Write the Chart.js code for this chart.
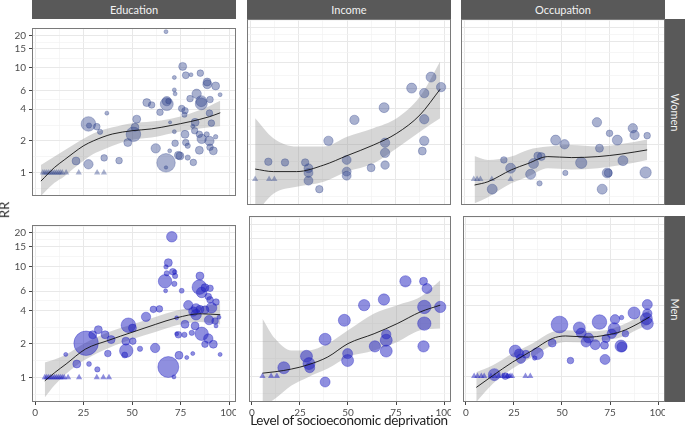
<!DOCTYPE html>
<html>
<head>
<meta charset="utf-8">
<script src="https://cdn.jsdelivr.net/npm/chart.js@4.4.1/dist/chart.umd.min.js"></script>
<style>
  html, body { margin: 0; padding: 0; background: #fff; }
  #wrap { position: relative; width: 685px; height: 432px; overflow: hidden; font-family: Lato, "Open Sans", sans-serif; }
  #wrap canvas { position: absolute; }
  .strip { position: absolute; background: #595959; color: #f2f2f2; font-size: 11px; display: flex; align-items: center; justify-content: center; }
  .strip.side span { display: block; transform: rotate(90deg); white-space: nowrap; }
  .axis-title { position: absolute; color: #222; white-space: nowrap; }
</style>
</head>
<body>
<div id="wrap"></div>
<script>
// ---- facets and axes ----
const facetCols = ["Education", "Income", "Occupation"];
const facetRows = ["Women", "Men"];
const xTicks = [0, 25, 50, 75, 100];
const yTicks = [1, 2, 4, 6, 10, 15, 20];

// ---- Education / Women ----
const eduWomenX = [67.5, 76.1, 77.7, 80.4, 85.2, 71.8, 88.7, 88.8, 93.1, 95.4, 71.8, 72.2, 83.3, 79.9, 85.7, 85.7, 90.2, 57.6, 60.1, 67.9, 67.9, 68.7, 75.6, 77.3, 64.4, 37.0, 52.4, 77.0, 89.9, 90.9, 69.6, 82.5, 81.3, 51.5, 27.5, 27.8, 31.8, 33.5, 50.7, 47.8, 71.8, 77.3, 84.7, 85.9, 88.5, 93.1, 89.9, 72.2, 77.7, 78.7, 90.2, 91.9, 84.7, 62.2, 69.4, 73.9, 74.7, 78.7, 81.6, 67.5, 67.5, 43.3, 35.6, 27.5, 21.1, 82.3];
const eduWomenRR = [21.8, 10.2, 8.4, 8.5, 8.8, 8.0, 7.25, 6.9, 6.65, 5.5, 6.1, 5.6, 5.6, 5.04, 4.77, 4.5, 4.94, 4.62, 4.39, 4.77, 4.47, 4.77, 4.06, 3.87, 3.74, 3.67, 3.22, 3.55, 3.67, 2.95, 3.0, 3.0, 2.76, 2.69, 2.9, 2.8, 2.73, 2.44, 2.31, 1.93, 2.45, 2.31, 2.31, 2.09, 2.31, 2.19, 2.0, 1.9, 1.93, 1.8, 1.74, 1.61, 1.63, 1.7, 1.61, 1.46, 1.44, 1.39, 1.25, 1.24, 1.12, 1.3, 1.38, 1.2, 1.29, 2.5];
const eduWomenW = [4, 16, 12, 4, 11, 4, 16, 20, 16, 4, 4, 4, 22, 11, 30, 36, 11, 16, 11, 22, 42, 7, 11, 11, 11, 4, 16, 7, 11, 11, 2.5, 16, 4, 16, 53, 7, 11, 7, 53, 16, 4, 16, 11, 22, 7, 5, 22, 11, 11, 7, 11, 16, 16, 22, 4, 16, 16, 7, 11, 86, 3, 11, 11, 22, 16, 11];
const eduWomenRefX = [4, 5, 6, 7, 8, 9, 10, 11, 12, 13, 14, 16, 22.5, 32, 35.5];
const eduWomenFitX = [3, 10, 15, 20, 25, 30, 35, 40, 50, 60, 70, 80, 90, 95.5];
const eduWomenFit = [0.83, 1.12, 1.32, 1.55, 1.8, 2.0, 2.18, 2.33, 2.5, 2.6, 2.8, 3.05, 3.4, 3.7];
const eduWomenLo = [0.6, 0.8, 0.92, 1.1, 1.3, 1.5, 1.65, 1.8, 2.05, 2.15, 2.35, 2.55, 2.7, 2.75];
const eduWomenHi = [1.18, 1.42, 1.62, 1.85, 2.1, 2.35, 2.55, 2.7, 2.95, 3.05, 3.25, 3.65, 4.3, 4.8];

// ---- Education / Men ----
const eduMenX = [70.5, 68.7, 67.5, 67.9, 71.0, 72.0, 72.2, 67.0, 71.8, 67.3, 75.6, 85.0, 84.7, 85.9, 87.6, 90.2, 89.3, 93.3, 90.2, 79.0, 83.0, 85.0, 81.6, 83.0, 87.6, 91.0, 89.7, 92.8, 94.8, 93.3, 73.0, 77.3, 82.5, 85.9, 73.0, 73.9, 77.0, 80.8, 89.3, 87.6, 91.9, 95.4, 81.3, 78.2, 74.2, 68.7, 71.6, 61.9, 64.1, 61.0, 57.2, 48.1, 50.2, 50.4, 46.8, 47.0, 46.2, 54.1, 26.3, 32.6, 29.7, 36.1, 39.2, 37.5, 21.5, 15.8, 27.8, 32.1];
const eduMenRR = [18.5, 10.8, 9.9, 8.66, 8.95, 8.9, 8.2, 7.35, 6.96, 6.03, 6.03, 8.2, 6.5, 5.83, 6.43, 6.35, 5.35, 4.77, 5.0, 4.47, 4.19, 4.1, 3.92, 3.67, 4.06, 4.24, 3.28, 3.22, 3.48, 2.91, 3.44, 3.01, 2.91, 2.47, 2.47, 2.42, 2.42, 2.52, 2.24, 1.99, 1.99, 1.61, 1.64, 1.51, 1.58, 1.24, 1.01, 1.84, 4.14, 4.1, 3.51, 2.95, 2.78, 2.12, 2.12, 1.74, 1.59, 1.81, 2.03, 2.69, 2.42, 2.42, 2.19, 1.64, 1.32, 1.61, 1.32, 1.18];
const eduMenW = [28, 16, 5, 7, 11, 5, 7, 45, 7, 4, 6, 16, 53, 28, 16, 11, 11, 11, 11, 22, 22, 16, 22, 28, 16, 28, 22, 11, 4, 4, 4, 16, 16, 45, 4, 11, 7, 7, 22, 11, 16, 4, 4, 4, 16, 110, 4, 22, 11, 11, 22, 53, 16, 11, 16, 45, 9, 7, 150, 16, 16, 16, 16, 11, 16, 4, 6, 7];
const eduMenRefX = [5, 6, 7, 8, 9, 10, 11, 12, 13, 14, 15, 17, 22.7, 31.8, 35.2, 38.1];
const eduMenFitX = [5, 10, 16, 26, 38, 50, 62, 73, 85, 95.5];
const eduMenFit = [0.93, 1.1, 1.32, 1.8, 2.16, 2.55, 3.0, 3.44, 3.74, 3.67];
const eduMenLo = [0.66, 0.85, 1.08, 1.45, 1.84, 2.2, 2.56, 2.95, 3.15, 3.0];
const eduMenHi = [1.36, 1.45, 1.61, 2.05, 2.56, 3.0, 3.5, 4.0, 4.35, 4.63];

// ---- Income / Women ----
const incWomenX = [9.4, 18.0, 28.4, 30.1, 30.1, 30.1, 35.7, 40.4, 49.8, 49.8, 49.8, 53.8, 62.4, 69.1, 69.6, 69.6, 69.6, 83.3, 89.8, 93.3, 98.5, 89.8, 89.8, 88.8];
const incWomenRR = [1.41, 1.39, 1.39, 1.24, 1.13, 0.97, 0.82, 2.13, 1.46, 1.16, 1.07, 3.22, 1.25, 4.1, 2.05, 1.68, 1.32, 6.03, 5.46, 7.5, 6.15, 3.26, 2.13, 1.74];
const incWomenW = [14, 14, 14, 20, 20, 20, 14, 22, 20, 20, 20, 22, 16, 25, 22, 22, 18, 25, 22, 25, 22, 22, 22, 16];
const incWomenRefX = [2.6, 9.8, 12.5];
const incWomenFitX = [2.6, 12, 24, 38, 50, 63.6, 75.6, 87.6, 98];
const incWomenFit = [1.22, 1.16, 1.16, 1.32, 1.59, 1.96, 2.47, 3.55, 5.9];
const incWomenLo = [0.5, 0.75, 0.86, 0.95, 1.16, 1.36, 1.84, 2.55, 3.32];
const incWomenHi = [3.32, 2.24, 1.9, 1.9, 2.31, 2.73, 3.32, 5.1, 10.2];

// ---- Income / Men ----
const incMenX = [16.6, 28.4, 29.7, 30.1, 38.1, 38.1, 48.1, 49.8, 49.8, 58.4, 68.7, 64.0, 69.9, 69.9, 69.9, 79.9, 89.3, 91.1, 89.7, 89.7, 89.3, 98.0];
const incMenRR = [1.18, 1.48, 1.28, 1.18, 2.07, 0.89, 3.01, 1.56, 1.36, 4.06, 4.54, 1.8, 2.28, 2.03, 1.64, 6.5, 6.5, 5.64, 3.92, 2.82, 1.8, 3.92];
const incMenW = [36, 36, 36, 25, 36, 25, 36, 25, 36, 32, 32, 32, 22, 36, 36, 32, 16, 25, 45, 45, 32, 32];
const incMenRefX = [5.5, 10, 13];
const incMenFitX = [5.5, 12, 20.6, 29.2, 39.5, 50, 63.6, 75.6, 87.6, 98];
const incMenFit = [1.06, 1.09, 1.15, 1.25, 1.46, 1.9, 2.31, 2.82, 3.55, 4.06];
const incMenLo = [0.55, 0.64, 0.83, 0.98, 1.16, 1.46, 1.66, 1.96, 2.47, 2.56];
const incMenHi = [3.11, 2.1, 1.66, 1.66, 1.9, 2.47, 3.44, 4.06, 4.77, 6.63];

// ---- Occupation / Women ----
const occWomenX = [14.5, 20.5, 24.0, 34.3, 35.8, 38.0, 39.8, 38.9, 47.2, 51.8, 52.2, 60.4, 68.5, 69.8, 71.2, 73.8, 74.3, 75.0, 79.0, 81.9, 87.0, 87.9, 94.4, 93.6];
const occWomenRR = [0.82, 1.46, 1.24, 1.1, 1.36, 1.58, 1.56, 0.92, 2.16, 1.99, 1.13, 1.38, 3.07, 1.84, 0.82, 1.13, 1.13, 2.47, 2.16, 1.44, 2.73, 2.39, 2.36, 1.14];
const occWomenW = [25, 11, 25, 25, 25, 16, 16, 7, 25, 22, 7, 32, 22, 16, 25, 25, 16, 11, 25, 25, 22, 22, 11, 32];
const occWomenRefX = [5, 6.7, 8.4, 14.3, 24];
const occWomenFitX = [5.4, 12.3, 24.3, 32.9, 43.2, 55.3, 69, 81, 94.4];
const occWomenFit = [0.89, 0.95, 1.2, 1.36, 1.56, 1.53, 1.56, 1.64, 1.78];
const occWomenLo = [0.62, 0.7, 0.92, 1.05, 1.24, 1.21, 1.24, 1.32, 1.46];
const occWomenHi = [1.58, 1.46, 1.56, 1.78, 1.9, 1.96, 1.9, 2.0, 2.19];

// ---- Occupation / Men ----
const occMenX = [14.8, 20.5, 22.0, 25.7, 27.7, 28.6, 31.2, 37.2, 35.8, 44.9, 48.7, 54.4, 59.0, 60.0, 62.5, 63.8, 67.3, 69.5, 72.1, 72.4, 72.9, 75.9, 77.6, 77.2, 81.0, 80.7, 81.2, 83.0, 87.5, 94.4, 94.4, 93.9, 94.4];
const occMenRR = [1.03, 1.0, 1.0, 1.64, 1.56, 1.41, 1.54, 1.56, 1.43, 1.92, 2.77, 1.36, 2.59, 2.34, 1.96, 2.12, 1.86, 2.91, 1.84, 1.39, 2.1, 2.31, 3.07, 2.55, 3.18, 1.81, 1.78, 2.31, 3.48, 4.11, 3.44, 3.11, 2.82];
const occMenW = [36, 11, 5, 36, 22, 22, 16, 36, 5, 16, 70, 11, 36, 25, 25, 25, 25, 53, 16, 25, 16, 22, 22, 36, 5, 36, 25, 11, 36, 25, 22, 36, 36];
const occMenRefX = [4.3, 6, 8, 9.5, 13, 15, 17, 19, 20, 21.5, 23, 24, 31, 33.5];
const occMenFitX = [5.4, 14, 24.3, 34.6, 44.9, 51.8, 63.8, 72.4, 81, 89.6, 95.6];
const occMenFit = [0.8, 1.01, 1.32, 1.66, 2.1, 2.21, 2.16, 2.24, 2.42, 2.82, 3.22];
const occMenLo = [0.6, 0.86, 1.16, 1.46, 1.84, 1.96, 1.94, 2.03, 2.16, 2.52, 2.77];
const occMenHi = [1.08, 1.24, 1.56, 1.9, 2.39, 2.47, 2.42, 2.47, 2.73, 3.22, 3.67];

// panel -> data lookup
const panels = [
  { row: 0, col: 0, x: eduWomenX, rr: eduWomenRR, w: eduWomenW, ref: eduWomenRefX, fx: eduWomenFitX, fit: eduWomenFit, lo: eduWomenLo, hi: eduWomenHi },
  { row: 0, col: 1, x: incWomenX, rr: incWomenRR, w: incWomenW, ref: incWomenRefX, fx: incWomenFitX, fit: incWomenFit, lo: incWomenLo, hi: incWomenHi },
  { row: 0, col: 2, x: occWomenX, rr: occWomenRR, w: occWomenW, ref: occWomenRefX, fx: occWomenFitX, fit: occWomenFit, lo: occWomenLo, hi: occWomenHi },
  { row: 1, col: 0, x: eduMenX, rr: eduMenRR, w: eduMenW, ref: eduMenRefX, fx: eduMenFitX, fit: eduMenFit, lo: eduMenLo, hi: eduMenHi },
  { row: 1, col: 1, x: incMenX, rr: incMenRR, w: incMenW, ref: incMenRefX, fx: incMenFitX, fit: incMenFit, lo: incMenLo, hi: incMenHi },
  { row: 1, col: 2, x: occMenX, rr: occMenRR, w: occMenW, ref: occMenRefX, fx: occMenFitX, fit: occMenFit, lo: occMenLo, hi: occMenHi },
];

// ---- layout ----
const colLeft = [32, 247, 461];
const rowTop = [19, 216];
const PANEL_W = 204, PANEL_H = 186;
const Y_AXIS_W = 32, X_AXIS_H = 18;
const X_MIN = -1.6, X_MAX = 103.6;
const Y_MIN = 0.6, Y_MAX = 23.6;
const FONT = "Lato, 'Open Sans', sans-serif";

const pointFill = ["rgba(40, 60, 135, 0.4)", "rgba(32, 32, 192, 0.5)"];
const pointEdge = ["rgba(40, 60, 135, 0.5)", "rgba(32, 32, 192, 0.6)"];

// minor grid positions: midway between major breaks (log midpoints on y)
const xMinor = [];
for (let i = 0; i < xTicks.length - 1; i++) xMinor.push((xTicks[i] + xTicks[i + 1]) / 2);
const yMinor = [yTicks[0] / Math.sqrt(yTicks[1] / yTicks[0])];
for (let i = 0; i < yTicks.length - 1; i++) yMinor.push(Math.sqrt(yTicks[i] * yTicks[i + 1]));
yMinor.push(yTicks[yTicks.length - 1] * Math.sqrt(yTicks[yTicks.length - 1] / yTicks[yTicks.length - 2]));

const panelBorder = {
  id: "panelBorder",
  afterDraw(chart) {
    const a = chart.chartArea;
    const ctx = chart.ctx;
    ctx.save();
    ctx.strokeStyle = "#7a7a7a";
    ctx.lineWidth = 1;
    ctx.strokeRect(Math.round(a.left) + 0.5, Math.round(a.top) + 0.5, Math.round(a.right - a.left) - 1, Math.round(a.bottom - a.top) - 1);
    ctx.restore();
  },
};

function gridOpts() {
  return {
    color: (c) => (c.tick && c.tick.minor ? "#f2f2f2" : "#e8e8e8"),
    lineWidth: (c) => (c.tick && c.tick.minor ? 0.7 : 1),
    tickColor: (c) => (c.tick && c.tick.minor ? "rgba(0,0,0,0)" : "#444"),
    tickLength: 3,
    tickWidth: 1,
  };
}

const wrap = document.getElementById("wrap");

panels.forEach((p) => {
  const leftAxis = p.col === 0;
  const bottomAxis = p.row === 1;
  const cw = PANEL_W + (leftAxis ? Y_AXIS_W : 0);
  const ch = PANEL_H + (bottomAxis ? X_AXIS_H : 0);
  const canvas = document.createElement("canvas");
  canvas.width = cw;
  canvas.height = ch;
  canvas.style.width = cw + "px";
  canvas.style.height = ch + "px";
  canvas.style.left = (colLeft[p.col] - (leftAxis ? Y_AXIS_W : 0)) + "px";
  canvas.style.top = rowTop[p.row] + "px";
  wrap.appendChild(canvas);

  const bubbles = p.x.map((v, i) => ({ x: v, y: p.rr[i], r: Math.sqrt(p.w[i]) }));
  const refs = p.ref.map((v) => ({ x: v, y: 1 }));
  const fitLine = p.fx.map((v, i) => ({ x: v, y: p.fit[i] }));
  const hiLine = p.fx.map((v, i) => ({ x: v, y: p.hi[i] }));
  const loLine = p.fx.map((v, i) => ({ x: v, y: p.lo[i] }));

  const xGrid = gridOpts();
  const yGrid = gridOpts();
  xGrid.drawTicks = bottomAxis;
  yGrid.drawTicks = leftAxis;

  new Chart(canvas, {
    type: "scatter",
    data: {
      datasets: [
        {
          type: "line",
          data: fitLine,
          borderColor: "#111",
          borderWidth: 0.9,
          pointRadius: 0,
          tension: 0.4,
          cubicInterpolationMode: "monotone",
          fill: false,
        },
        {
          type: "bubble",
          data: bubbles,
          backgroundColor: pointFill[p.row],
          borderColor: pointEdge[p.row],
          borderWidth: 0.6,
        },
        {
          type: "scatter",
          data: refs,
          pointStyle: "triangle",
          pointRadius: 3.6,
          backgroundColor: pointFill[p.row],
          borderWidth: 0,
        },
        {
          type: "line",
          data: hiLine,
          borderWidth: 0,
          pointRadius: 0,
          tension: 0.4,
          cubicInterpolationMode: "monotone",
          backgroundColor: "rgba(153, 153, 153, 0.4)",
          fill: "+1",
        },
        {
          type: "line",
          data: loLine,
          borderWidth: 0,
          pointRadius: 0,
          tension: 0.4,
          cubicInterpolationMode: "monotone",
          fill: false,
        },
      ],
    },
    options: {
      responsive: false,
      animation: false,
      events: [],
      layout: { padding: 0, autoPadding: false },
      plugins: {
        legend: { display: false },
        tooltip: { enabled: false },
      },
      scales: {
        x: {
          type: "linear",
          min: X_MIN,
          max: X_MAX,
          afterBuildTicks: (s) => {
            s.ticks = xTicks.map((v) => ({ value: v })).concat(xMinor.map((v) => ({ value: v, minor: true })));
          },
          afterFit: (s) => { s.height = bottomAxis ? X_AXIS_H : 0; },
          grid: xGrid,
          border: { display: false },
          ticks: {
            display: bottomAxis,
            autoSkip: false,
            maxRotation: 0,
            padding: 2,
            color: "#4d4d4d",
            font: { family: FONT, size: 10 },
            callback: (v) => (xTicks.includes(v) ? String(v) : ""),
          },
        },
        y: {
          type: "logarithmic",
          min: Y_MIN,
          max: Y_MAX,
          afterBuildTicks: (s) => {
            s.ticks = yTicks.map((v) => ({ value: v })).concat(yMinor.map((v) => ({ value: v, minor: true })));
          },
          afterFit: (s) => { s.width = leftAxis ? Y_AXIS_W : 0; },
          grid: yGrid,
          border: { display: false },
          ticks: {
            display: leftAxis,
            autoSkip: false,
            padding: 3,
            color: "#4d4d4d",
            font: { family: FONT, size: 10 },
            callback: (v) => (yTicks.includes(v) ? String(v) : ""),
          },
        },
      },
    },
    plugins: [panelBorder],
  });
});

// facet strips
facetCols.forEach((name, c) => {
  const d = document.createElement("div");
  d.className = "strip";
  d.style.left = colLeft[c] + "px";
  d.style.top = "0px";
  d.style.width = PANEL_W + "px";
  d.style.height = rowTop[0] + "px";
  d.textContent = name;
  wrap.appendChild(d);
});
facetRows.forEach((name, r) => {
  const d = document.createElement("div");
  d.className = "strip side";
  d.style.left = (colLeft[2] + PANEL_W) + "px";
  d.style.top = rowTop[r] + "px";
  d.style.width = (685 - colLeft[2] - PANEL_W) + "px";
  d.style.height = PANEL_H + "px";
  const s = document.createElement("span");
  s.textContent = name;
  d.appendChild(s);
  wrap.appendChild(d);
});

// axis titles
const xt = document.createElement("div");
xt.className = "axis-title";
xt.textContent = "Level of socioeconomic deprivation";
xt.style.fontSize = "13.5px";
xt.style.letterSpacing = "-0.3px";
xt.style.left = "249px";
xt.style.width = "200px";
xt.style.textAlign = "center";
xt.style.top = "412px";
wrap.appendChild(xt);

const yt = document.createElement("div");
yt.className = "axis-title";
yt.textContent = "RR";
yt.style.fontSize = "13px";
yt.style.left = "-4px";
yt.style.top = "202px";
yt.style.transform = "rotate(-90deg)";
wrap.appendChild(yt);
</script>
</body>
</html>
